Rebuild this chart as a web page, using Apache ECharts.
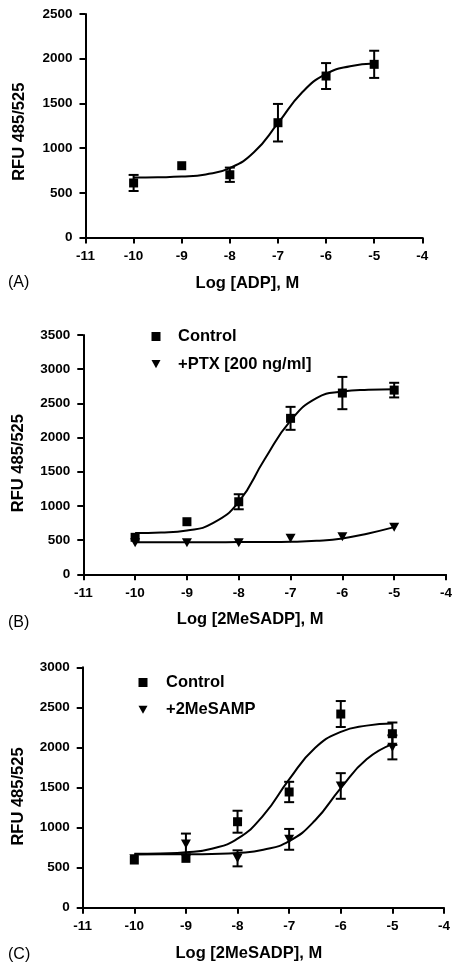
<!DOCTYPE html>
<html><head><meta charset="utf-8">
<script src="https://cdn.jsdelivr.net/npm/echarts@6/dist/echarts.min.js"></script>
<style>html,body{margin:0;padding:0;background:#fff}#c{width:460px;height:974px}</style>
</head><body><div id="c"></div>
<script>
// ---- data ----
const doses = [-10, -9, -8, -7, -6, -5];
const fitX = [-10, -9.5, -9, -8.5, -8, -7.5, -7, -6.5, -6, -5.5, -5];
const xTicks = [-11, -4, 1];   // min, max, step
// Panel A
const aMean = [610, 803, 702, 1284, 1806, 1937];
const aErr  = [90, 0, 80, 210, 145, 152];
const aFit  = [671, 674, 681, 705, 776, 953, 1278, 1622, 1830, 1916, 1946];
// Panel B
const bCtrlMean = [541, 769, 1061, 2281, 2651, 2694];
const bCtrlErr  = [0, 0, 110, 168, 236, 107];
const bCtrlFit  = [603, 611, 641, 747, 1061, 1683, 2247, 2577, 2673, 2700, 2708];
const bPtxMean  = [462, 462, 462, 526, 550, 687];
const bPtxErr   = [0, 0, 0, 0, 0, 0];
const bPtxFit   = [470, 470, 470, 470, 471, 472, 476, 490, 525, 598, 690];
// Panel C
const cCtrlMean = [595, 616, 1073, 1444, 2417, 2171];
const cCtrlErr  = [0, 0, 137, 127, 162, 140];
const cCtrlFit  = [672, 677, 691, 736, 861, 1152, 1602, 1993, 2194, 2272, 2298];
const cAmpMean  = [610, 795, 616, 853, 1519, 2001];
const cAmpErr   = [0, 130, 100, 130, 160, 150];
const cAmpFit   = [665, 666, 667, 671, 683, 722, 831, 1088, 1493, 1852, 2041];
const yMax = [2500, 3500, 3000];
const xNames = ['Log [ADP], M', 'Log [2MeSADP], M', 'Log [2MeSADP], M'];
const yName = 'RFU 485/525';
const panelLabels = ['(A)', '(B)', '(C)'];

// ---- chart ----
const FONT = 'Liberation Sans, Arial, sans-serif';
const chart = echarts.init(document.getElementById('c'), null, {renderer: 'canvas'});

function errRender(params, api) {
  const x = api.value(0), y = api.value(1), e = api.value(2);
  if (!e) return;
  const t = api.coord([x, y + e]), b = api.coord([x, y - e]);
  const w = 5;
  const style = {stroke: '#000', lineWidth: 2};
  return {type: 'group', children: [
    {type: 'line', shape: {x1: t[0], y1: t[1], x2: b[0], y2: b[1]}, style},
    {type: 'line', shape: {x1: t[0] - w, y1: t[1], x2: t[0] + w, y2: t[1]}, style},
    {type: 'line', shape: {x1: b[0] - w, y1: b[1], x2: b[0] + w, y2: b[1]}, style}
  ]};
}
function pts(xs, ys) { return xs.map((x, i) => [x, ys[i]]); }
function errData(m, e) { return doses.map((d, i) => [d, m[i], e[i]]); }

const grids = [
  {left: 85.5, top: 14, width: 336.8, height: 223.5},
  {left: 83.3, top: 335, width: 362.7, height: 239.3},
  {left: 82.7, top: 667.3, width: 361.3, height: 240.4}
];
const xPad = [13, 29, 29];
const yPad = [12, 17, 18];
const yGap = [58, 56, 56];

const axisLine = {onZero: false, lineStyle: {color: '#000', width: 2}};
const axisTick = {length: 6, lineStyle: {color: '#000', width: 2}};
const lbl = {fontFamily: FONT, fontWeight: 'bold', fontSize: 13.5, color: '#000'};
const nameStyle = {fontFamily: FONT, fontWeight: 'bold', fontSize: 16.5, color: '#000'};
const plain = v => String(v);

const xAxis = grids.map((g, i) => ({
  type: 'value', gridIndex: i, min: xTicks[0], max: xTicks[1], interval: xTicks[2],
  name: xNames[i], nameLocation: 'middle', nameGap: 37,
  nameTextStyle: Object.assign({padding: [0, xPad[i], 0, 0]}, nameStyle),
  axisLine, axisTick, axisLabel: Object.assign({margin: 12, formatter: plain}, lbl), splitLine: {show: false}
}));
const yAxis = grids.map((g, i) => ({
  type: 'value', gridIndex: i, min: 0, max: yMax[i], interval: 500,
  name: yName, nameLocation: 'middle', nameGap: yGap[i],
  nameTextStyle: Object.assign({padding: [0, yPad[i], 0, 0]}, nameStyle),
  axisLine, axisTick, axisLabel: Object.assign({margin: 13, formatter: plain}, lbl), splitLine: {show: false}
}));

function fitLine(i, xs, ys) {
  return {type: 'line', xAxisIndex: i, yAxisIndex: i, data: pts(xs, ys), smooth: 0.5,
    showSymbol: false, symbol: 'none', silent: true,
    lineStyle: {color: '#000', width: 2}, z: 2};
}
function errSeries(i, m, e) {
  return {type: 'custom', xAxisIndex: i, yAxisIndex: i, renderItem: errRender,
    data: errData(m, e), silent: true, z: 3};
}
function marks(i, name, m, tri) {
  return {type: 'scatter', name, xAxisIndex: i, yAxisIndex: i, data: pts(doses, m),
    symbol: tri ? 'triangle' : 'rect', symbolRotate: tri ? 180 : 0,
    symbolSize: tri ? [10, 9] : 9, itemStyle: {color: '#000', opacity: 1}, z: 4, silent: true};
}

const series = [
  fitLine(0, fitX, aFit), errSeries(0, aMean, aErr), marks(0, 'ADP', aMean, false),
  fitLine(1, fitX, bCtrlFit), errSeries(1, bCtrlMean, bCtrlErr), marks(1, 'Control', bCtrlMean, false),
  fitLine(1, fitX, bPtxFit), errSeries(1, bPtxMean, bPtxErr), marks(1, '+PTX [200 ng/ml]', bPtxMean, true),
  fitLine(2, fitX, cCtrlFit), errSeries(2, cCtrlMean, cCtrlErr), marks(2, 'Control', cCtrlMean, false),
  fitLine(2, fitX, cAmpFit), errSeries(2, cAmpMean, cAmpErr), marks(2, '+2MeSAMP', cAmpMean, true)
];

const DOWN_TRI = 'path://M0,0L10,0L5,9Z';
const legendText = {fontFamily: FONT, fontWeight: 'bold', fontSize: 16.5, color: '#000', lineHeight: 17};
const legend = [
  {data: [{name: 'Control', icon: 'rect'}, {name: '+PTX [200 ng/ml]', icon: DOWN_TRI}],
   left: 151.5, top: 328, orient: 'vertical',
   itemWidth: 9, itemHeight: 9, itemGap: 10.6, selectedMode: false, padding: 0,
   textStyle: Object.assign({padding: [0, 0, 0, 12.5]}, legendText)},
  {data: [{name: 'Control', icon: 'rect'}, {name: '+2MeSAMP', icon: DOWN_TRI}],
   left: 138.5, top: 674, orient: 'vertical',
   itemWidth: 9, itemHeight: 9, itemGap: 10.3, selectedMode: false, padding: 0,
   textStyle: Object.assign({padding: [0, 0, 0, 13.5]}, legendText)}
];

const labelTops = [275, 615, 947];
const graphic = panelLabels.map((t, i) => ({
  type: 'text', left: 8, top: labelTops[i],
  style: {text: t, font: '16px ' + FONT, fill: '#000'}
}));

chart.setOption({
  animation: false, backgroundColor: '#fff',
  grid: grids, xAxis, yAxis, series, legend, graphic
});
</script></body></html>
